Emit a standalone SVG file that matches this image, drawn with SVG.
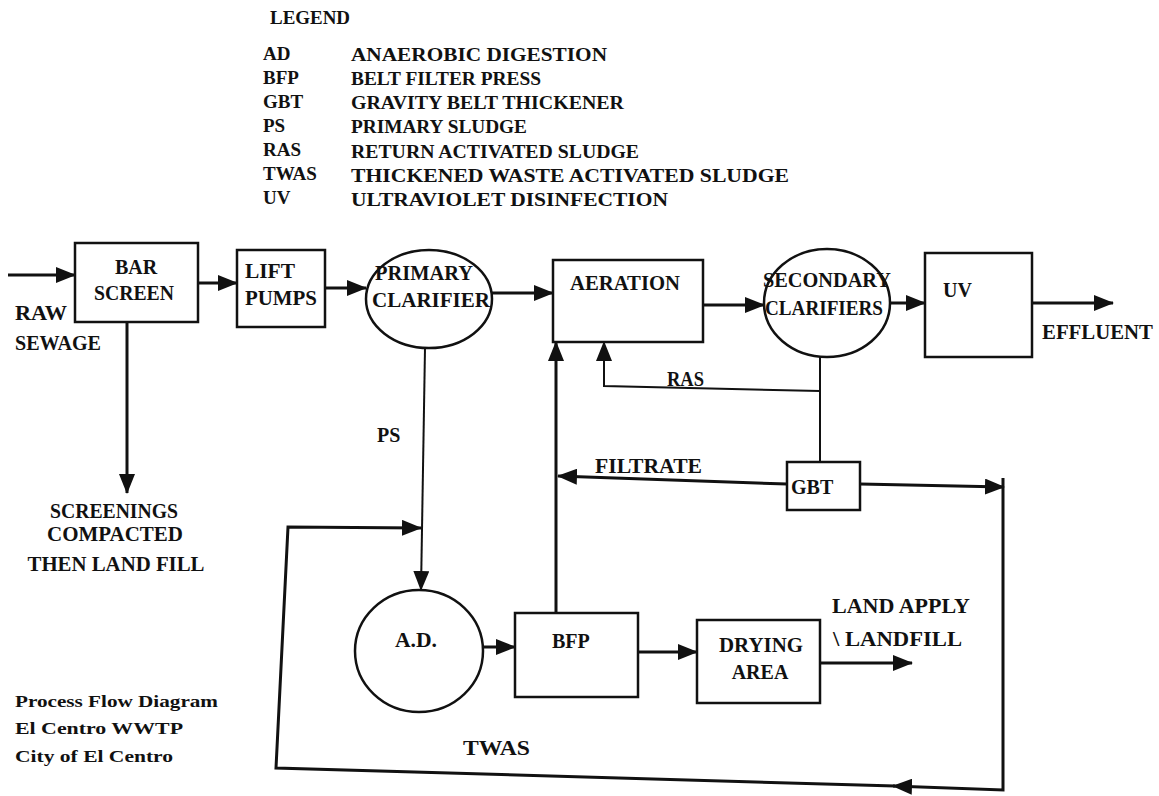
<svg xmlns="http://www.w3.org/2000/svg" width="1159" height="796" viewBox="0 0 1159 796">
<style>
text{font-family:"Liberation Serif","Times New Roman",serif;font-weight:bold;fill:#111;}
.t{font-size:20px;}
.lg{font-size:19px;}
.sm{font-size:17px;}
.box{fill:#fff;stroke:#111;stroke-width:2.5;}
.c{fill:none;stroke:#111;stroke-width:3;}
.thin{fill:none;stroke:#111;stroke-width:2;}
</style>
<defs>
<marker id="ah" viewBox="0 0 20 16" refX="19" refY="8" markerWidth="20" markerHeight="16" markerUnits="userSpaceOnUse" orient="auto">
<path d="M0,0 L20,8 L0,16 z" fill="#111"/>
</marker>
</defs>
<rect width="1159" height="796" fill="#fff"/>

<g id="legend">
<text class="lg" x="270" y="24" textLength="80" lengthAdjust="spacingAndGlyphs">LEGEND</text>
<text class="lg" x="263" y="60">AD</text>
<text class="lg" x="263" y="84">BFP</text>
<text class="lg" x="263" y="108">GBT</text>
<text class="lg" x="263" y="132">PS</text>
<text class="lg" x="263" y="156">RAS</text>
<text class="lg" x="263" y="180">TWAS</text>
<text class="lg" x="263" y="204">UV</text>
<text class="lg" x="351" y="61" textLength="256" lengthAdjust="spacingAndGlyphs">ANAEROBIC DIGESTION</text>
<text class="lg" x="351" y="85" textLength="190" lengthAdjust="spacingAndGlyphs">BELT FILTER PRESS</text>
<text class="lg" x="351" y="109" textLength="273" lengthAdjust="spacingAndGlyphs">GRAVITY BELT THICKENER</text>
<text class="lg" x="351" y="133" textLength="176" lengthAdjust="spacingAndGlyphs">PRIMARY SLUDGE</text>
<text class="lg" x="351" y="158" textLength="288" lengthAdjust="spacingAndGlyphs">RETURN ACTIVATED SLUDGE</text>
<text class="lg" x="351" y="182" textLength="438" lengthAdjust="spacingAndGlyphs">THICKENED WASTE ACTIVATED SLUDGE</text>
<text class="lg" x="351" y="206" textLength="317" lengthAdjust="spacingAndGlyphs">ULTRAVIOLET DISINFECTION</text>
</g>

<g id="connectors">
<path class="c" d="M8,275 L75,275" marker-end="url(#ah)"/>
<path class="c" d="M198,283 L237,283" marker-end="url(#ah)"/>
<path class="c" d="M325,288 L366,288" marker-end="url(#ah)"/>
<path class="c" d="M492,293 L553,293" marker-end="url(#ah)"/>
<path class="c" d="M703,305 L764,305" marker-end="url(#ah)"/>
<path class="c" d="M890,303 L925,303" marker-end="url(#ah)"/>
<path class="c" d="M1032,303 L1113,303" marker-end="url(#ah)"/>
<path class="c" d="M127,322 L127,493" marker-end="url(#ah)"/>
<path class="thin" d="M425,348 L421,590" marker-end="url(#ah)"/>
<path class="thin" d="M820,357 L820,462"/>
<path class="thin" d="M820,391 L604,386 L604,342" marker-end="url(#ah)"/>
<path class="c" d="M787,484 L558,476" marker-end="url(#ah)"/>
<path class="c" d="M556,613 L556,342" marker-end="url(#ah)"/>
<path class="c" d="M860,484 L1004,487" marker-end="url(#ah)"/>
<path class="c" d="M1003,478 L1003,790 L893,786" marker-end="url(#ah)"/>
<path class="c" d="M895,786 L276,768 L288,527 L421,528" marker-end="url(#ah)"/>
<path class="c" d="M483,647 L515,647" marker-end="url(#ah)"/>
<path class="c" d="M638,652 L697,652" marker-end="url(#ah)"/>
<path class="c" d="M820,663 L912,663" marker-end="url(#ah)"/>
</g>

<g id="raw-sewage">
<text class="t" x="15" y="320" textLength="52" lengthAdjust="spacingAndGlyphs">RAW</text>
<text class="t" x="15" y="350" textLength="86" lengthAdjust="spacingAndGlyphs">SEWAGE</text>
</g>

<g id="bar-screen">
<rect class="box" x="75" y="243" width="123" height="79"/>
<text class="t" x="136" y="274" text-anchor="middle">BAR</text>
<text class="t" x="134" y="300" text-anchor="middle" textLength="80" lengthAdjust="spacingAndGlyphs">SCREEN</text>
</g>

<g id="lift-pumps">
<rect class="box" x="237" y="250" width="88" height="77"/>
<text class="t" x="245" y="278" textLength="50" lengthAdjust="spacingAndGlyphs">LIFT</text>
<text class="t" x="245" y="305" textLength="72" lengthAdjust="spacingAndGlyphs">PUMPS</text>
</g>

<g id="primary-clarifier">
<ellipse class="box" cx="429" cy="299" rx="63" ry="49"/>
<text class="t" x="424" y="280" text-anchor="middle" textLength="98" lengthAdjust="spacingAndGlyphs">PRIMARY</text>
<text class="t" x="431" y="307" text-anchor="middle" textLength="118" lengthAdjust="spacingAndGlyphs">CLARIFIER</text>
</g>

<g id="aeration">
<rect class="box" x="553" y="260" width="150" height="82"/>
<text class="t" x="570" y="290" textLength="110" lengthAdjust="spacingAndGlyphs">AERATION</text>
</g>

<g id="secondary-clarifiers">
<ellipse class="box" cx="827" cy="303" rx="63" ry="54"/>
<text class="t" x="827" y="287" text-anchor="middle" textLength="128" lengthAdjust="spacingAndGlyphs">SECONDARY</text>
<text class="t" x="824" y="315" text-anchor="middle" textLength="118" lengthAdjust="spacingAndGlyphs">CLARIFIERS</text>
</g>

<g id="uv">
<rect class="box" x="925" y="253" width="107" height="104"/>
<text class="t" x="943" y="297">UV</text>
</g>

<g id="effluent">
<text class="t" x="1042" y="339" textLength="111" lengthAdjust="spacingAndGlyphs">EFFLUENT</text>
</g>

<g id="screenings">
<text class="t" x="114" y="518" text-anchor="middle" textLength="128" lengthAdjust="spacingAndGlyphs">SCREENINGS</text>
<text class="t" x="115" y="541" text-anchor="middle" textLength="136" lengthAdjust="spacingAndGlyphs">COMPACTED</text>
<text class="t" x="116" y="571" text-anchor="middle" textLength="177" lengthAdjust="spacingAndGlyphs">THEN LAND FILL</text>
</g>

<g id="ps-label">
<text class="t" x="377" y="442">PS</text>
</g>

<g id="ras-label">
<text class="t" x="667" y="386" textLength="37" lengthAdjust="spacingAndGlyphs">RAS</text>
</g>

<g id="filtrate-label">
<text class="t" x="595" y="473" textLength="107" lengthAdjust="spacingAndGlyphs">FILTRATE</text>
</g>

<g id="gbt">
<rect class="box" x="787" y="462" width="73" height="48"/>
<text class="t" x="791" y="494">GBT</text>
</g>

<g id="ad">
<ellipse class="box" cx="419" cy="651" rx="64" ry="61"/>
<text class="t" x="395" y="647" textLength="42" lengthAdjust="spacingAndGlyphs">A.D.</text>
</g>

<g id="bfp">
<rect class="box" x="515" y="613" width="123" height="84"/>
<text class="t" x="552" y="648">BFP</text>
</g>

<g id="drying-area">
<rect class="box" x="697" y="620" width="123" height="83"/>
<text class="t" x="761" y="652" text-anchor="middle" textLength="84" lengthAdjust="spacingAndGlyphs">DRYING</text>
<text class="t" x="760" y="679" text-anchor="middle">AREA</text>
</g>

<g id="land-apply">
<text class="t" x="832" y="613" textLength="138" lengthAdjust="spacingAndGlyphs">LAND APPLY</text>
<text class="t" x="833" y="646" textLength="129" lengthAdjust="spacingAndGlyphs">\ LANDFILL</text>
</g>

<g id="twas-label">
<text class="t" x="463" y="755" textLength="67" lengthAdjust="spacingAndGlyphs">TWAS</text>
</g>

<g id="title">
<text class="sm" x="15" y="707" textLength="203" lengthAdjust="spacingAndGlyphs">Process Flow Diagram</text>
<text class="sm" x="15" y="734" textLength="168" lengthAdjust="spacingAndGlyphs">El Centro WWTP</text>
<text class="sm" x="15" y="762" textLength="158" lengthAdjust="spacingAndGlyphs">City of El Centro</text>
</g>
</svg>
